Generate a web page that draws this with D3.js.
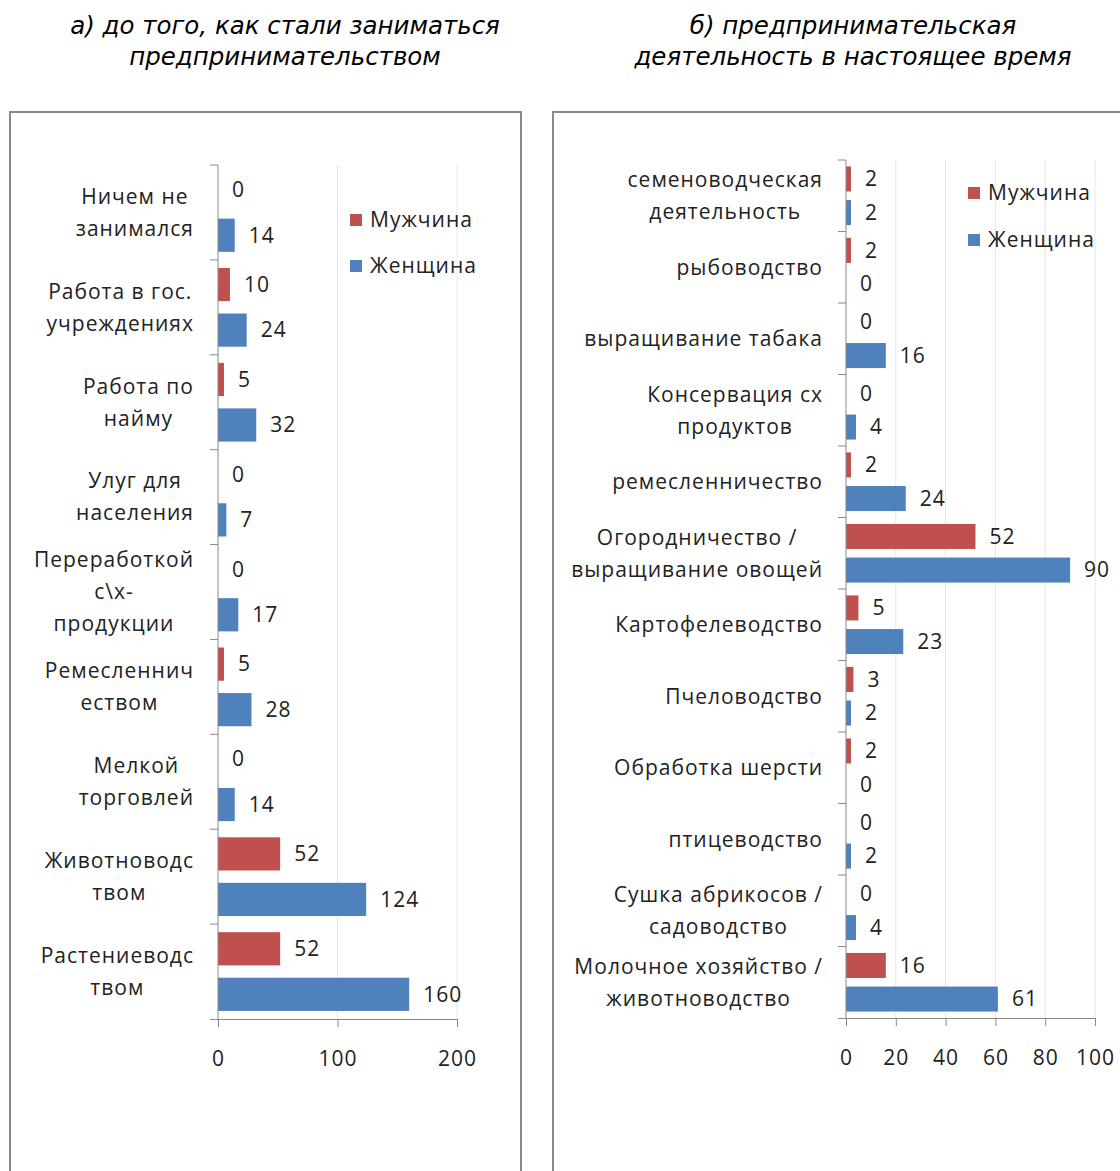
<!DOCTYPE html>
<html><head><meta charset="utf-8">
<script src="https://cdn.jsdelivr.net/npm/d3@7"></script>
<style>body{margin:0;background:#fff}svg{display:block}</style>
</head><body>
<svg id="c" width="1120" height="1171"></svg>
<script>
const seriesNames = ["Мужчина", "Женщина"];
const colors = ["#C0504D", "#4F81BD"];

const titleA = ["а) до того, как стали заниматься", "предпринимательством"];
const catsA = [["Ничем не","занимался"],["Работа в гос.","учреждениях"],["Работа по","найму"],["Улуг для","населения"],["Переработкой","с\\х-","продукции"],["Ремесленнич","еством"],["Мелкой","торговлей"],["Животноводс","твом"],["Растениеводс","твом"]];
const menA = [0,10,5,0,0,5,0,52,52];
const womenA = [14,24,32,7,17,28,14,124,160];
const ticksA = [0,100,200];

const titleB = ["б) предпринимательская", "деятельность в настоящее время"];
const catsB = [["семеноводческая","деятельность"],["рыбоводство"],["выращивание табака"],["Консервация сх","продуктов"],["ремесленничество"],["Огородничество /","выращивание овощей"],["Картофелеводство"],["Пчеловодство"],["Обработка шерсти"],["птицеводство"],["Сушка абрикосов /","садоводство"],["Молочное хозяйство /","животноводство"]];
const menB = [2,2,0,0,2,52,5,3,2,0,0,16];
const womenB = [2,0,16,4,24,90,23,2,0,2,4,61];
const ticksB = [0,20,40,60,80,100];

const svg = d3.select("#c");
const FONT = "'Open Sans', sans-serif";
const FS = "21px", LS = "1px";

function txt(sel){ return sel.style("font-family",FONT).style("font-size",FS).style("letter-spacing",LS).attr("fill","#222"); }

function title(lines, cx){
  svg.append("text").attr("x",cx).attr("y",34).attr("text-anchor","middle")
    .style("font-family","'DejaVu Sans', sans-serif").style("font-style","italic").style("font-size","24.5px").attr("fill","#000")
    .selectAll("tspan").data(lines).join("tspan").attr("x",cx).attr("dy",(d,i)=>i?31:0).text(d=>d);
}
title(titleA, 285);
title(titleB, 853);

// frames
svg.append("rect").attr("x",10).attr("y",112).attr("width",511).attr("height",1080).attr("fill","none").attr("stroke","#8a8a8a").attr("stroke-width",2);
svg.append("rect").attr("x",553).attr("y",112).attr("width",600).attr("height",1080).attr("fill","none").attr("stroke","#8a8a8a").attr("stroke-width",2);

function chart(o){
  const x = d3.scaleLinear().domain([0, o.ticks[o.ticks.length-1]]).range([o.x0, o.x1]);
  const y = d3.scaleBand().domain(d3.range(o.cats.length)).range([o.y0, o.y1]);
  const g = svg.append("g");
  g.selectAll(".grid").data(o.ticks.slice(1)).join("line")
    .attr("x1",d=>x(d)).attr("x2",d=>x(d)).attr("y1",o.y0).attr("y2",o.y1)
    .attr("stroke","#e6e6e6").attr("stroke-width",1);
  const bw = y.bandwidth();
  const hb = bw*o.barFrac;
  const series = [o.men, o.women];
  series.forEach((vals, si)=>{
    const off = si===0 ? o.pad*bw : bw - o.pad*bw - hb;
    g.selectAll(null).data(vals).join("rect")
      .attr("x", x(0)).attr("y",(d,i)=>y(i)+off).attr("width",d=>x(d)-x(0)).attr("height",hb)
      .attr("fill",colors[si]);
    txt(g.selectAll(null).data(vals).join("text")
      .attr("x",d=>x(d)+14).attr("y",(d,i)=>y(i)+off+hb/2).attr("dy","0.35em")).text(d=>d);
  });
  const xa = g.append("g").attr("transform",`translate(0,${o.y1})`).call(d3.axisBottom(x).tickValues(o.ticks).tickSize(8).tickPadding(24).tickFormat(d3.format("d")));
  xa.select(".domain").attr("stroke","#888").attr("d",`M${o.x0-8},0.5H${o.x1}`);
  xa.selectAll(".tick line").attr("stroke","#888");
  txt(xa.selectAll("text"));
  g.append("line").attr("x1",x(0)).attr("x2",x(0)).attr("y1",o.y0).attr("y2",o.y1).attr("stroke","#888");
  g.selectAll(".yt").data(d3.range(o.cats.length)).join("line")
    .attr("x1",x(0)-8).attr("x2",x(0)).attr("y1",d=>y(d)).attr("y2",d=>y(d)).attr("stroke","#888");
  o.cats.forEach((lines,i)=>{
    const t = txt(g.append("text")).attr("text-anchor","middle");
    const lh = 32;
    const cy = y(i)+bw/2 - (lines.length-1)*lh/2;
    lines.forEach((l,j)=>t.append("tspan").attr("y",cy+j*lh).attr("dy","0.35em").text(l));
    let mw = 0; t.selectAll("tspan").each(function(){mw=Math.max(mw,this.getComputedTextLength());});
    t.selectAll("tspan").attr("x", o.labelRight - mw/2);
  });
  seriesNames.forEach((n,si)=>{
    const ly = o.legY + si*o.legGap;
    g.append("rect").attr("x",o.legX).attr("y",ly-6).attr("width",12).attr("height",12).attr("fill",colors[si]);
    txt(g.append("text").attr("x",o.legX+20).attr("y",ly).attr("dy","0.35em")).text(n);
  });
}

chart({cats:catsA, men:menA, women:womenA, ticks:ticksA, x0:218, x1:457, y0:165, y1:1019, barFrac:0.35, pad:0.085, labelRight:194, legX:350, legY:220, legGap:46});
chart({cats:catsB, men:menB, women:womenB, ticks:ticksB, x0:846, x1:1095, y0:160, y1:1018, barFrac:0.35, pad:0.09, labelRight:823, legX:968, legY:193, legGap:47});
</script>
</body></html>
